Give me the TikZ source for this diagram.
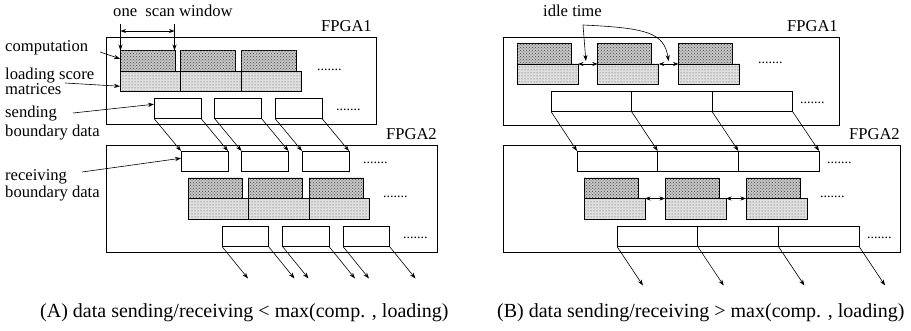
\documentclass[tikz,border=0pt]{standalone}
\usepackage{fontspec}
\setmainfont{Liberation Serif}
\usetikzlibrary{arrows.meta,calc,patterns}
\newcommand\lblfont{\fontsize{16.6}{19}\selectfont}
\newcommand\capfont{\fontsize{20}{24}\selectfont}
\newcommand\dotfont{\fontsize{14}{16}\selectfont}
\begin{document}
\begin{tikzpicture}[x=1pt,y=-1pt,
  lbl/.style={font=\lblfont, inner sep=0pt, anchor=base west},
  capt/.style={font=\capfont, inner sep=0pt, anchor=base west},
  dts/.style={font=\dotfont, inner sep=0pt, anchor=base west},
  frm/.style={draw, line width=0.9pt, inner sep=0pt, outer sep=0pt, anchor=north west},
  bx/.style={draw, line width=0.7pt, inner sep=0pt, outer sep=0pt, anchor=north west, minimum height=20.5pt},
  compbox/.style={bx, fill=gray!45, postaction={pattern=crosshatch dots, pattern color=gray!55!black}},
  loadbox/.style={bx, fill=gray!25, postaction={pattern=dots, pattern color=gray!60!black}},
  sendbox/.style={bx, fill=white},
  arr/.style={line width=0.6pt, -{Stealth[length=6pt,width=4.2pt]}},
  darr/.style={line width=0.6pt, {Stealth[length=5.5pt,width=4pt]}-{Stealth[length=5.5pt,width=4pt]}}]
\useasboundingbox (0,0) rectangle (911,331);

% ===================== Panel A =====================
\node[frm, minimum width=270pt, minimum height=87pt] (LF1) at (106,37) {};
\node[frm, minimum width=331pt, minimum height=107pt] (LF2) at (106,145) {};
\node[lbl, anchor=base east] (LF1t) at (372,32) {FPGA1};
\node[lbl, anchor=base east] (LF2t) at (437,140) {FPGA2};

\foreach \i/\x in {1/120,2/180.5,3/241}{
  \node[loadbox, minimum width=60.5pt] (LLa\i) at (\x,71) {};
  \node[compbox, minimum width=55pt] (LCa\i) at (\x,50.5) {};
}
\foreach \i/\x in {1/154,2/214.5,3/275}
  \node[sendbox, minimum width=47pt] (LSa\i) at (\x,98) {};
\foreach \i/\x in {1/181,2/241.5,3/302}
  \node[sendbox, minimum width=47pt] (LRb\i) at (\x,151) {};
\foreach \i/\x in {1/188,2/248.5,3/309}{
  \node[loadbox, minimum width=60.5pt] (LLb\i) at (\x,198.5) {};
  \node[compbox, minimum width=54pt] (LCb\i) at (\x,178) {};
}
\foreach \i/\x in {1/222,2/282.5,3/343}
  \node[sendbox, minimum width=46.5pt] (LSb\i) at (\x,226) {};

\foreach \i in {1,2,3}{
  \draw[arr] (LSa\i.south west) -- (LRb\i.north west);
  \draw[arr] (LSa\i.south east) -- (LRb\i.north east);
  \coordinate (LOa\i) at ($(LSb\i.south west)+(26,32)$);
  \coordinate (LOb\i) at ($(LSb\i.south east)+(26,32)$);
  \draw[arr] (LSb\i.south west) -- (LOa\i);
  \draw[arr] (LSb\i.south east) -- (LOb\i);
}

\node[dts] (LD1) at (317,71) {.......};
\node[dts] (LD2) at (336,111) {.......};
\node[dts] (LD3) at (363,164) {.......};
\node[dts] (LD4) at (383,198) {.......};
\node[dts] (LD5) at (403,239) {.......};

% scan window
\node[lbl] (scan) at (113,17) {one\ \ scan window};
\coordinate (SWa) at (120.5,24);
\coordinate (SWb) at (174.5,24);
\draw[arr] (SWa) -- (SWa |- LCa1.north);
\draw[arr] (SWb) -- (SWb |- LCa1.north);
\coordinate (SWc) at (120.5,31);
\coordinate (SWd) at (174.5,31);
\draw[darr] (SWc) -- (SWd);

% side labels
\node[lbl] (Lcomp) at (5,52) {computation};
\coordinate (Lcompa) at (100,52);
\draw[arr] (Lcompa) -- ([yshift=2pt]LCa1.west);
\node[lbl] (Lload1) at (5,79.5) {loading score};
\node[lbl] (Lload2) at (5,95) {matrices};
\coordinate (Lloada) at (65,83);
\draw[arr] (Lloada) -- ([yshift=-5pt]LLa1.west);
\node[lbl] (Lsend1) at (5,118) {sending};
\node[lbl] (Lsend2) at (5,137) {boundary data};
\coordinate (Lsenda) at (73,113);
\draw[arr] (Lsenda) -- ([yshift=4pt]LSa1.west);
\node[lbl] (Lrecv1) at (5,181) {receiving};
\node[lbl] (Lrecv2) at (5,198) {boundary data};
\coordinate (Lrecva) at (82,172);
\draw[arr] (Lrecva) -- ([yshift=3pt]LRb1.west);

\node[capt] (capA) at (40,317) {(A) data sending/receiving < max(comp. , loading)};

% ===================== Panel B =====================
\node[frm, minimum width=336pt, minimum height=88pt] (RF1) at (503,37) {};
\node[frm, minimum width=397pt, minimum height=107pt] (RF2) at (503,145) {};
\node[lbl, anchor=base east] (RF1t) at (838,32) {FPGA1};
\node[lbl, anchor=base east] (RF2t) at (900,140) {FPGA2};

\foreach \i/\x in {1/517,2/597.75,3/678.5}{
  \node[loadbox, minimum width=61pt] (RLa\i) at (\x,64) {};
  \node[compbox, minimum width=54pt] (RCa\i) at (\x,43.5) {};
}
\foreach \i/\x in {1/551,2/631.5,3/712}
  \node[sendbox, minimum width=80.5pt] (RSa\i) at (\x,91) {};
\foreach \i/\x in {1/577,2/657.7,3/738.4}
  \node[sendbox, minimum width=80.7pt] (RRb\i) at (\x,151) {};
\foreach \i/\x in {1/584,2/665,3/746}{
  \node[loadbox, minimum width=61pt] (RLb\i) at (\x,198.5) {};
  \node[compbox, minimum width=54pt] (RCb\i) at (\x,178) {};
}
\foreach \i/\x in {1/617,2/697.7,3/778.4}
  \node[sendbox, minimum width=80.7pt] (RSb\i) at (\x,226) {};

\foreach \i in {1,2,3}{
  \draw[arr] (RSa\i.south west) -- (RRb\i.north west);
  \coordinate (ROa\i) at ($(RSb\i.south west)+(26,39)$);
  \draw[arr] (RSb\i.south west) -- (ROa\i);
}
\draw[arr] (RSa3.south east) -- (RRb3.north east);
\coordinate (ROb3) at ($(RSb3.south east)+(26,39)$);
\draw[arr] (RSb3.south east) -- (ROb3);

% idle gaps
\draw[darr] (RLa1.north east) -- (RLa2.north west);
\draw[darr] (RLa2.north east) -- (RLa3.north west);
\draw[darr] (RLb1.north east) -- (RLb2.north west);
\draw[darr] (RLb2.north east) -- (RLb3.north west);

\node[lbl] (idle) at (543,17) {idle time};
\coordinate (Ia) at (583,25);
\coordinate (I1) at ($(RLa1.north east)!0.5!(RLa2.north west)$);
\coordinate (I2) at ($(RLa2.north east)!0.5!(RLa3.north west)$);
\draw[arr] (Ia) -- ([xshift=-2pt,yshift=3pt]I1);
\draw[arr] (Ia) .. controls (648,28) and (664,33) .. ([yshift=3pt]I2);

\node[dts] (RD1) at (758,64) {.......};
\node[dts] (RD2) at (800,104) {.......};
\node[dts] (RD3) at (827,164) {.......};
\node[dts] (RD4) at (820,198) {.......};
\node[dts] (RD5) at (867,239) {.......};

\node[capt] (capB) at (497,317) {(B) data sending/receiving > max(comp. , loading)};
\end{tikzpicture}
\end{document}
